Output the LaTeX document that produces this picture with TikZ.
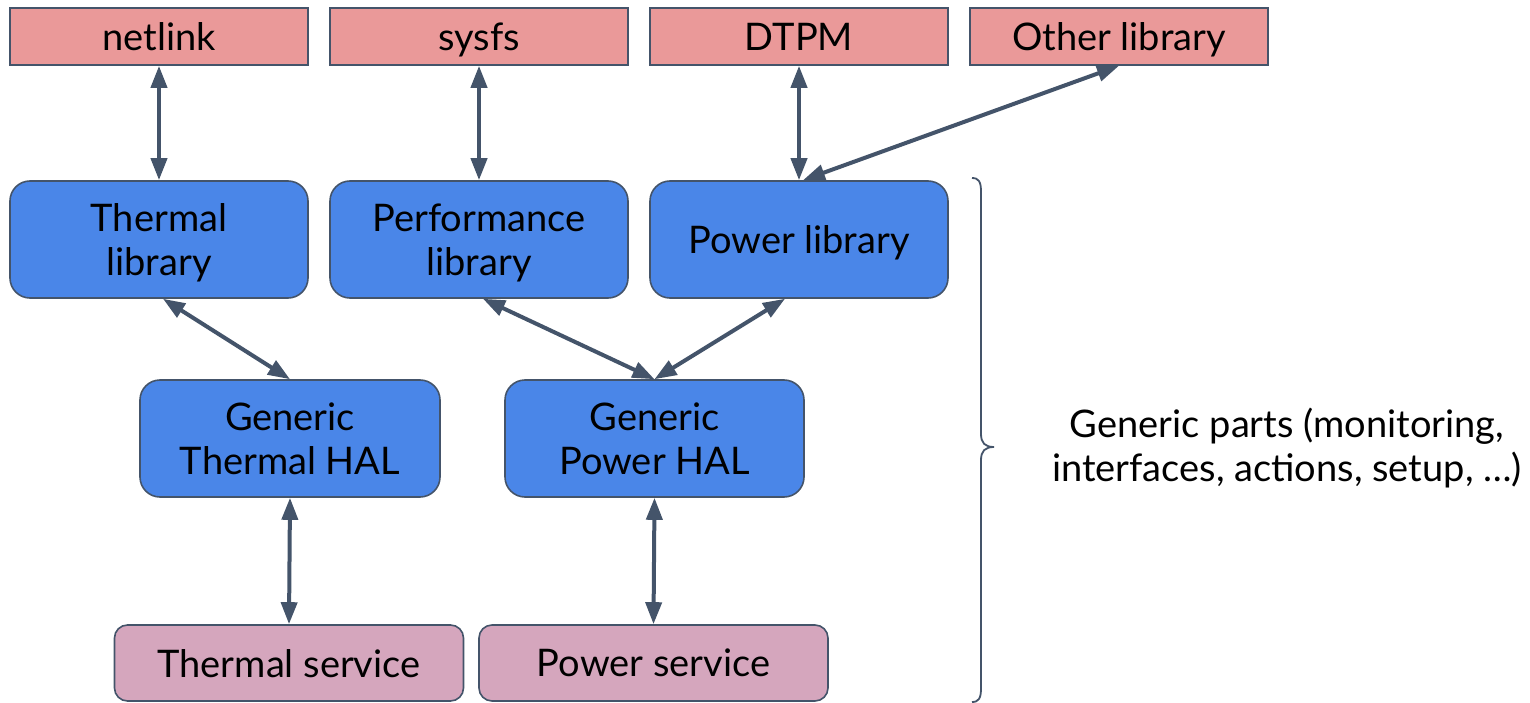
\documentclass[tikz,border=0pt]{standalone}
\usepackage{fontspec}
\setmainfont{Lato}
\usetikzlibrary{arrows.meta,calc}
\definecolor{libred}{HTML}{EA9999}
\definecolor{corblue}{HTML}{4A86E8}
\definecolor{svcpink}{HTML}{D5A6BD}
\definecolor{slate}{HTML}{44546A}
\begin{document}
\begin{tikzpicture}[x=1pt,y=-1pt,
  every node/.style={font=\fontsize{38pt}{44pt}\selectfont, text=black, inner sep=0pt, align=center, text depth=0pt},
  extbox/.style={draw=slate, line width=1.6pt, fill=libred, minimum width=298pt, minimum height=57pt},
  corebox/.style={draw=slate, line width=1.6pt, fill=corblue, rounded corners=20pt, minimum width=298pt, minimum height=117pt},
  svcbox/.style={draw=slate, line width=1.6pt, fill=svcpink, rounded corners=13pt, minimum width=349pt, minimum height=76pt},
  link/.style={draw=slate, line width=4pt, {Triangle[length=22pt,width=16pt]}-{Triangle[length=22pt,width=16pt]}},
  bracket/.style={draw=slate, line width=1.8pt}
]
\useasboundingbox (0,0) rectangle (1530,703);

% external interfaces
\node[extbox] (netlink) at (159,36.5) {netlink};
\node[extbox] (sysfs) at (479,36.5) {sysfs};
\node[extbox] (dtpm) at (799,36.5) {DTPM};
\node[extbox] (other) at (1119,36.5) {Other library};

% libraries
\node[corebox] (tlib) at (159,239.5) {Thermal\\library};
\node[corebox] (plib) at (479,239.5) {Performance\\library};
\node[corebox] (wlib) at (799,239.5) {Power library};

% HALs
\node[corebox, minimum width=300pt] (thal) at (290,438.5) {Generic\\Thermal HAL};
\node[corebox, minimum width=299pt] (phal) at (654.5,438.5) {Generic\\Power HAL};

% services
\node[svcbox] (tsvc) at (289,663) {Thermal service};
\node[svcbox] (psvc) at (653.5,663) {Power service};

% connectors
\draw[link] (netlink.south) -- (tlib.north);
\draw[link] (sysfs.south) -- (plib.north);
\draw[link] (dtpm.south) -- (wlib.north);
\draw[link] (other.south) -- ($(wlib.north)+(4,0)$);
\draw[link] ($(tlib.south)+(4,0)$) -- (thal.north);
\draw[link] ($(plib.south)+(4,0)$) -- (phal.north);
\draw[link] ($(wlib.south)+(-14,0)$) -- (phal.north);
\draw[link] (thal.south) -- (tsvc.north);
\draw[link] (phal.south) -- (psvc.north);

% brace around the generic parts
\coordinate (btop) at (972,178);
\coordinate (bbot) at (972,702);
\draw[bracket] (btop) .. controls (979,178) and (981,182) .. (981,192)
  -- (981,434) .. controls (981,443) and (985,447) .. (994,447)
  .. controls (985,447) and (981,451) .. (981,460)
  -- (981,688) .. controls (981,698) and (979,702) .. (bbot);

\node (note) at (1287,445) {Generic parts (monitoring,\\interfaces, actions, setup, …)};
\end{tikzpicture}
\end{document}
